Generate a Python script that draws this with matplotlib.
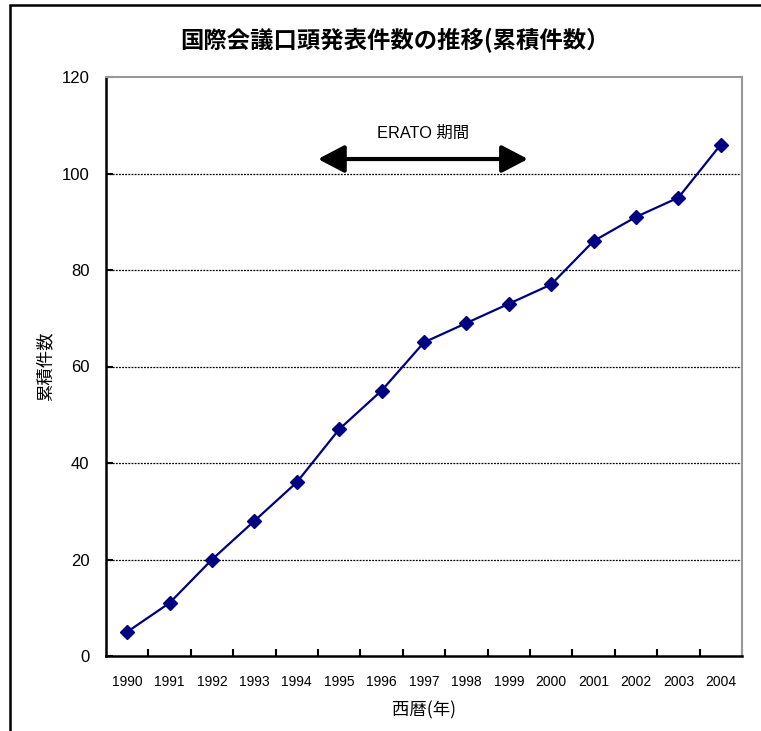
import matplotlib
matplotlib.use("Agg")
import matplotlib.pyplot as plt
from matplotlib.patches import Rectangle

plt.rcParams['font.family'] = ['Liberation Sans', 'Noto Sans CJK JP', 'DejaVu Sans']

years = ["1990", "1991", "1992", "1993", "1994", "1995", "1996", "1997",
         "1998", "1999", "2000", "2001", "2002", "2003", "2004"]
cumulative = [5, 11, 20, 28, 36, 47, 55, 65, 69, 73, 77, 86, 91, 95, 106]

title = "国際会議口頭発表件数の推移(累積件数）"
xlabel = "西暦(年)"
ylabel = "累積件数"
period_label = "ERATO 期間"
period_start, period_end = 4.5, 9.45   # category positions of the ERATO span
period_y = 103

W, H, DPI = 761, 731, 100
fig = plt.figure(figsize=(W / DPI, H / DPI), dpi=DPI)
fig.patch.set_facecolor("white")

# outer chart frame (runs off the right and bottom edges)
fig.add_artist(Rectangle((10 / W, -0.05), 1.2, 1 - 5 / H + 0.05,
                         transform=fig.transFigure, fill=False,
                         edgecolor="black", linewidth=1.8))

ax = fig.add_axes([106 / W, 1 - 656 / H, (742 - 106) / W, (656 - 77) / H])

x = list(range(len(years)))
ax.plot(x, cumulative, color="#000080", linewidth=1.6, marker="D",
        markersize=7, markerfacecolor="#000080", markeredgecolor="#000080",
        zorder=3)

ax.set_xlim(-0.5, len(years) - 0.5)
ax.set_ylim(0, 120)
ax.set_yticks(range(0, 121, 20))
ax.set_yticklabels([str(v) for v in range(0, 121, 20)], fontsize=12)
ax.set_xticks(x)
ax.set_xticklabels(years, fontsize=10)
ax.set_xticks([i + 0.5 for i in range(len(years))], minor=True)

for yv in range(20, 101, 20):
    ax.axhline(yv, color="black", linestyle=(0, (1.5, 1)), linewidth=0.9, zorder=1)

for side in ("top", "right"):
    ax.spines[side].set_color("#999999")
    ax.spines[side].set_linewidth(1.5)
for side in ("left", "bottom"):
    ax.spines[side].set_color("black")
    ax.spines[side].set_linewidth(1.8)

ax.tick_params(axis="x", which="major", length=0, pad=14)
ax.tick_params(axis="x", which="minor", length=5, width=1.5, direction="in")
ax.tick_params(axis="y", which="major", length=5, width=1.5, direction="in", pad=12)

ax.set_xlabel(xlabel, fontsize=12.5, family=['Noto Sans CJK JP'])
ax.xaxis.set_label_coords((424 - 106) / 636, -(710 - 656) / 579)
ax.xaxis.label.set_va("center")
ax.set_ylabel(ylabel, fontsize=12.5, family=['Noto Sans CJK JP'])
ax.yaxis.set_label_coords((45 - 106) / 636, (656 - 366) / 579)
ax.yaxis.label.set_va("center")

fig.text(395 / W, 1 - 40 / H, title, fontsize=16.8, fontweight="bold",
         ha="center", va="center", family=['Noto Sans CJK JP'])

ax.annotate("", xy=(period_end, period_y), xytext=(period_start, period_y),
            arrowprops=dict(arrowstyle="<|-|>,head_length=0.8,head_width=0.42",
                            mutation_scale=20, color="black", lw=3,
                            shrinkA=0, shrinkB=0))
ax.text((period_start + period_end) / 2, 108.3, period_label, fontsize=11.8,
        ha="center", va="center", family=['Liberation Sans', 'Noto Sans CJK JP'])

fig.savefig("out.png", dpi=DPI, facecolor="white")
